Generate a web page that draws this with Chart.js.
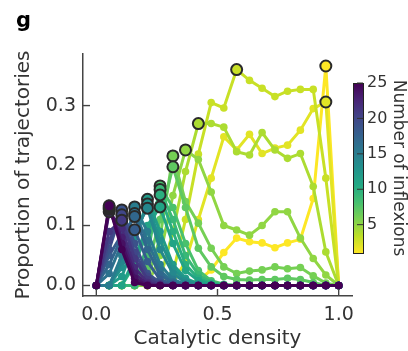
<!DOCTYPE html>
<html>
<head>
<meta charset="utf-8">
<title>Proportion of trajectories vs catalytic density</title>
<script src="https://cdn.jsdelivr.net/npm/chart.js@4.4.1/dist/chart.umd.min.js"></script>
<style>
  html, body { margin: 0; padding: 0; background: #fff; }
</style>
<script>
// x positions (catalytic density) shared by every curve
const density = [0.000, 0.053, 0.105, 0.158, 0.211, 0.263, 0.316, 0.368, 0.421, 0.474,
                 0.526, 0.579, 0.632, 0.684, 0.737, 0.789, 0.842, 0.895, 0.947, 1.000];

// one curve per number of inflexions
const inflex1  = [0, 0, 0, 0, 0, 0, 0, 0, 0.008, 0.026, 0.055, 0.079, 0.073, 0.071, 0.063, 0.071, 0.077, 0.145, 0.366, 0];
const inflex2  = [0, 0, 0, 0, 0, 0, 0.005, 0.04, 0.11, 0.179, 0.248, 0.226, 0.252, 0.220, 0.229, 0.234, 0.259, 0.295, 0.306, 0];
const inflex3  = [0, 0, 0, 0, 0, 0, 0.02, 0.11, 0.219, 0.305, 0.296, 0.36, 0.342, 0.329, 0.315, 0.324, 0.327, 0.327, 0.179, 0];
const inflex4  = [0, 0, 0, 0, 0, 0.01, 0.09, 0.19, 0.27, 0.27, 0.264, 0.223, 0.2175, 0.255, 0.226, 0.212, 0.22, 0.165, 0.056, 0];
const inflex5  = [0, 0, 0, 0, 0, 0.05, 0.15, 0.226, 0.21, 0.156, 0.10, 0.0925, 0.084, 0.10, 0.123, 0.123, 0.079, 0.045, 0.0175, 0];
const inflex6  = [0, 0, 0, 0, 0.01, 0.08, 0.216, 0.14, 0.104, 0.062, 0.031, 0.02, 0.024, 0.026, 0.031, 0.028, 0.03, 0.016, 0.004, 0];
const inflex7  = [0, 0, 0, 0, 0.03, 0.11, 0.198, 0.13, 0.062, 0.031, 0.015, 0.01, 0.009, 0.01, 0.01, 0.012, 0.01, 0.005, 0, 0];
const inflex8  = [0, 0, 0, 0, 0.05, 0.166, 0.13, 0.07, 0.025, 0.008, 0.002, 0, 0, 0, 0, 0, 0, 0, 0, 0];
const inflex9  = [0, 0, 0, 0, 0.07, 0.16, 0.11, 0.05, 0.018, 0.005, 0.001, 0, 0, 0, 0, 0, 0, 0, 0, 0];
const inflex10 = [0, 0, 0, 0.035, 0.09, 0.151, 0.09, 0.035, 0.012, 0.003, 0, 0, 0, 0, 0, 0, 0, 0, 0, 0];
const inflex11 = [0, 0, 0, 0.045, 0.1, 0.131, 0.07, 0.025, 0.008, 0.002, 0, 0, 0, 0, 0, 0, 0, 0, 0, 0];
const inflex12 = [0, 0, 0.015, 0.07, 0.1437, 0.09, 0.035, 0.012, 0.003, 0, 0, 0, 0, 0, 0, 0, 0, 0, 0, 0];
const inflex13 = [0, 0, 0.03, 0.08, 0.136, 0.075, 0.028, 0.008, 0.002, 0, 0, 0, 0, 0, 0, 0, 0, 0, 0, 0];
const inflex14 = [0, 0, 0.04, 0.09, 0.129, 0.06, 0.02, 0.005, 0, 0, 0, 0, 0, 0, 0, 0, 0, 0, 0, 0];
const inflex15 = [0, 0, 0.05, 0.131, 0.09, 0.035, 0.01, 0.002, 0, 0, 0, 0, 0, 0, 0, 0, 0, 0, 0, 0];
const inflex16 = [0, 0.02, 0.07, 0.12, 0.075, 0.025, 0.006, 0, 0, 0, 0, 0, 0, 0, 0, 0, 0, 0, 0, 0];
const inflex17 = [0, 0.035, 0.08, 0.115, 0.06, 0.018, 0.004, 0, 0, 0, 0, 0, 0, 0, 0, 0, 0, 0, 0, 0];
const inflex18 = [0, 0.05, 0.085, 0.093, 0.04, 0.01, 0.002, 0, 0, 0, 0, 0, 0, 0, 0, 0, 0, 0, 0, 0];
const inflex19 = [0, 0.06, 0.126, 0.07, 0.02, 0.005, 0, 0, 0, 0, 0, 0, 0, 0, 0, 0, 0, 0, 0, 0];
const inflex20 = [0, 0.075, 0.118, 0.055, 0.015, 0.003, 0, 0, 0, 0, 0, 0, 0, 0, 0, 0, 0, 0, 0, 0];
const inflex21 = [0, 0.09, 0.109, 0.045, 0.01, 0.002, 0, 0, 0, 0, 0, 0, 0, 0, 0, 0, 0, 0, 0, 0];
const inflex22 = [0, 0.123, 0.095, 0.03, 0.005, 0, 0, 0, 0, 0, 0, 0, 0, 0, 0, 0, 0, 0, 0, 0];
const inflex23 = [0, 0.127, 0.08, 0.02, 0.002, 0, 0, 0, 0, 0, 0, 0, 0, 0, 0, 0, 0, 0, 0, 0];
const inflex24 = [0, 0.13, 0.07, 0.012, 0, 0, 0, 0, 0, 0, 0, 0, 0, 0, 0, 0, 0, 0, 0, 0];
const inflex25 = [0, 0.133, 0.06, 0.005, 0, 0, 0, 0, 0, 0, 0, 0, 0, 0, 0, 0, 0, 0, 0, 0];

const inflexions = [1, 2, 3, 4, 5, 6, 7, 8, 9, 10, 11, 12, 13, 14, 15, 16, 17, 18, 19, 20, 21, 22, 23, 24, 25];
const curves = [inflex1, inflex2, inflex3, inflex4, inflex5, inflex6, inflex7, inflex8, inflex9, inflex10,
                inflex11, inflex12, inflex13, inflex14, inflex15, inflex16, inflex17, inflex18, inflex19, inflex20,
                inflex21, inflex22, inflex23, inflex24, inflex25];

const xTicks = [0, 0.5, 1.0];
const yTicks = [0, 0.1, 0.2, 0.3];
const cbarTicks = [5, 10, 15, 20, 25];
const cbarMin = 1, cbarMax = 25;

const FONT = "'DejaVu Sans', 'Liberation Sans', sans-serif";
const INK = '#333333';

// viridis colour map, sampled every 0.1
const viridisStops = ['#440154', '#482475', '#414487', '#355f8d', '#2a788e', '#21918c',
                      '#22a884', '#44bf70', '#7ad151', '#bddf26', '#fde725'];
const hexToRgb = h => [1, 3, 5].map(i => parseInt(h.substr(i, 2), 16));
const viridis = t => {
    t = Math.min(1, Math.max(0, t));
    const p = t * (viridisStops.length - 1);
    const i = Math.min(Math.floor(p), viridisStops.length - 2);
    const f = p - i;
    const a = hexToRgb(viridisStops[i]), b = hexToRgb(viridisStops[i + 1]);
    const c = a.map((v, j) => Math.round(v + (b[j] - v) * f));
    return `rgb(${c[0]},${c[1]},${c[2]})`;
};
// reversed map: few inflexions = yellow, many = purple
const colourFor = n => viridis((cbarMax - n) / (cbarMax - cbarMin));

// inward ticks, colour bar and the panel letter
const decorPlugin = {
    id: 'decor',
    afterDraw(chart) {
        const ctx = chart.ctx;
        const area = chart.chartArea;
        const xs = chart.scales.x, ys = chart.scales.y;
        ctx.save();
        ctx.strokeStyle = '#444';
        ctx.lineWidth = 1.4;
        xTicks.forEach(v => {
            const px = xs.getPixelForValue(v);
            ctx.beginPath(); ctx.moveTo(px, area.bottom); ctx.lineTo(px, area.bottom - 7); ctx.stroke();
        });
        yTicks.forEach(v => {
            const py = ys.getPixelForValue(v);
            ctx.beginPath(); ctx.moveTo(area.left, py); ctx.lineTo(area.left + 7, py); ctx.stroke();
        });

        // colour bar
        const cb = {left: 353, right: 363, top: 83, bottom: 253};
        const grad = ctx.createLinearGradient(0, cb.bottom, 0, cb.top);
        for (let i = 0; i <= 20; i++) grad.addColorStop(i / 20, viridis(1 - i / 20));
        ctx.fillStyle = grad;
        ctx.fillRect(cb.left, cb.top, cb.right - cb.left, cb.bottom - cb.top);
        ctx.strokeStyle = '#222';
        ctx.lineWidth = 1;
        ctx.strokeRect(cb.left + 0.5, cb.top + 0.5, cb.right - cb.left, cb.bottom - cb.top);
        ctx.fillStyle = INK;
        ctx.font = `16px ${FONT}`;
        ctx.textAlign = 'left';
        ctx.textBaseline = 'middle';
        cbarTicks.forEach(v => {
            const py = cb.bottom - (v - cbarMin) / (cbarMax - cbarMin) * (cb.bottom - cb.top);
            ctx.strokeStyle = '#333';
            ctx.beginPath(); ctx.moveTo(cb.right - 6, py); ctx.lineTo(cb.right, py); ctx.stroke();
            ctx.fillText(String(v), 367, py);
        });
        ctx.save();
        ctx.translate(398, (cb.top + cb.bottom) / 2);
        ctx.rotate(Math.PI / 2);
        ctx.textAlign = 'center';
        ctx.font = `17px ${FONT}`;
        ctx.fillText('Number of inflexions', 0, 0);
        ctx.restore();

        // panel letter
        ctx.font = `bold 21px ${FONT}`;
        ctx.textAlign = 'left';
        ctx.textBaseline = 'alphabetic';
        ctx.fillStyle = '#000';
        ctx.fillText('g', 16, 27);
        ctx.restore();
    }
};

const buildChart = () => {
    const datasets = curves.map((vals, i) => {
        const n = inflexions[i];
        const col = colourFor(n);
        return {
            label: n + ' inflexions',
            data: vals.map((v, k) => ({x: density[k], y: v})),
            borderColor: col,
            backgroundColor: col,
            pointBackgroundColor: col,
            pointBorderWidth: 0,
            pointRadius: 3.8,
            borderWidth: 3,
            tension: 0,
            order: cbarMax + 1 - n   // purple curves drawn on top
        };
    });

    // circled maximum of every curve
    const peaks = curves.map(vals => {
        const k = vals.indexOf(Math.max(...vals));
        return {x: density[k], y: vals[k]};
    });
    datasets.push({
        label: 'maxima',
        data: peaks,
        showLine: false,
        pointBackgroundColor: inflexions.map(colourFor),
        pointBorderColor: '#2a2a2a',
        pointBorderWidth: 2,
        pointRadius: 5.5,
        order: 0
    });

    new Chart(document.getElementById('chartCanvas').getContext('2d'), {
        type: 'line',
        data: {datasets: datasets},
        options: {
            responsive: false,
            animation: false,
            devicePixelRatio: 1,
            layout: {padding: {left: 0, right: 56, top: 54, bottom: 0}},
            plugins: {legend: {display: false}, tooltip: {enabled: false}},
            scales: {
                x: {
                    type: 'linear',
                    min: -0.055,
                    max: 1.055,
                    afterBuildTicks: s => { s.ticks = xTicks.map(v => ({value: v})); },
                    afterFit: s => { s.height = 55; },
                    grid: {display: false, drawTicks: false},
                    border: {display: true, color: '#444', width: 1.5},
                    ticks: {padding: 8, color: INK, autoSkip: false, maxRotation: 0,
                            font: {family: FONT, size: 19}, callback: v => v.toFixed(1)},
                    title: {display: true, text: 'Catalytic density', color: INK,
                            font: {family: FONT, size: 20}, padding: 0}
                },
                y: {
                    min: -0.0175,
                    max: 0.386,
                    afterBuildTicks: s => { s.ticks = yTicks.map(v => ({value: v})); },
                    afterFit: s => { s.width = 83; },
                    grid: {display: false, drawTicks: false},
                    border: {display: true, color: '#444', width: 1.5},
                    ticks: {padding: 7, color: INK, autoSkip: false,
                            font: {family: FONT, size: 19}, callback: v => v.toFixed(1)},
                    title: {display: true, text: 'Proportion of trajectories', color: INK,
                            font: {family: FONT, size: 20}, padding: {top: 12, bottom: 0}}
                }
            }
        },
        plugins: [decorPlugin]
    });
};
</script>
</head>
<body onload="buildChart()">
<canvas id="chartCanvas" width="408" height="351"></canvas>
</body>
</html>
